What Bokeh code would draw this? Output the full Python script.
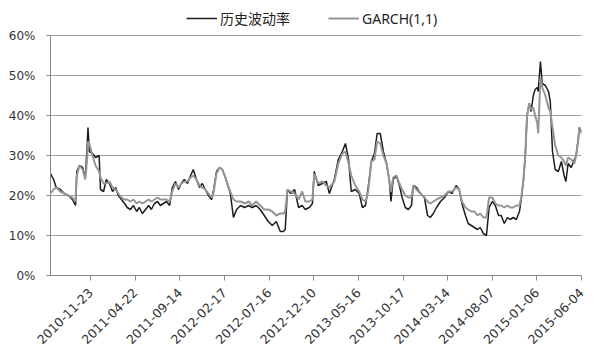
import math
from bokeh.plotting import figure
from bokeh.models import FixedTicker, Legend, LegendItem, ColumnDataSource
from bokeh.embed import file_html
from bokeh.resources import INLINE

# trading-day index of each sampled point
day = [0, 7, 13, 22, 31, 40, 49, 56, 59, 65, 72, 78, 82, 84, 87, 94, 101, 109, 112, 119,
       125, 132, 139, 146, 152, 159, 166, 172, 179, 186, 193, 199, 206, 213, 220, 226, 233, 240, 246, 253,
       260, 267, 273, 280, 287, 293, 300, 307, 314, 320, 327, 334, 340, 347, 354, 361, 365, 372, 379, 385,
       392, 399, 403, 410, 417, 426, 435, 444, 452, 461, 470, 479, 488, 497, 506, 515, 522, 526, 531, 538,
       547, 556, 564, 571, 580, 587, 591, 600, 609, 618, 625, 636, 645, 654, 661, 668, 674, 683, 692, 699,
       706, 712, 719, 726, 732, 739, 746, 753, 759, 763, 768, 775, 782, 788, 795, 802, 809, 813, 820, 829,
       838, 845, 851, 858, 865, 874, 883, 892, 900, 909, 916, 922, 930, 936, 943, 950, 957, 963, 970, 977,
       983, 990, 997, 1004, 1010, 1017, 1024, 1030, 1037, 1044, 1051, 1055, 1060, 1064, 1068, 1073, 1077, 1082, 1086, 1091,
       1093, 1098, 1102, 1109, 1116, 1120, 1125, 1131, 1138, 1145, 1151, 1155, 1160, 1167, 1174, 1178, 1183, 1185, 1190]

# 历史波动率 (%)
hv = [25.5, 24.0, 22.0, 21.5, 20.5, 20.0, 19.0, 17.5, 26.0, 27.5, 27.0, 24.5, 32.0, 37.0, 31.0, 30.5, 29.5, 30.0, 21.5, 21.0,
      24.0, 23.0, 21.0, 22.0, 20.0, 19.0, 18.0, 17.0, 16.5, 17.5, 16.0, 17.0, 15.5, 16.5, 17.5, 16.5, 18.0, 18.5, 17.5, 18.0,
      18.5, 17.5, 22.0, 23.5, 21.5, 23.0, 24.0, 23.0, 25.0, 26.5, 24.0, 22.0, 23.0, 21.5, 20.0, 19.0, 21.0, 26.0, 27.0, 26.5,
      24.5, 22.0, 20.5, 14.5, 16.5, 17.5, 17.0, 17.5, 17.0, 17.5, 16.5, 15.0, 13.5, 12.5, 13.5, 11.0, 11.0, 11.5, 21.5, 20.5,
      21.5, 17.0, 17.5, 16.5, 17.0, 18.0, 26.0, 22.5, 23.0, 23.5, 20.5, 24.0, 29.0, 31.0, 33.0, 29.0, 21.0, 21.5, 20.5, 17.0,
      17.5, 22.0, 28.5, 30.5, 35.5, 35.5, 31.0, 28.0, 24.0, 18.5, 24.0, 25.0, 22.5, 19.5, 17.0, 16.5, 17.5, 22.5, 22.0, 20.5,
      19.5, 15.0, 14.5, 15.5, 17.0, 18.5, 19.5, 21.0, 20.5, 22.5, 21.5, 18.0, 15.0, 13.0, 12.5, 12.0, 11.5, 12.0, 10.5, 10.0,
      17.0, 18.5, 17.5, 15.0, 15.0, 13.0, 14.5, 14.0, 14.5, 14.0, 16.0, 19.0, 24.0, 30.0, 40.0, 43.0, 41.0, 45.0, 46.5, 47.0,
      46.0, 53.5, 48.0, 47.5, 46.0, 43.5, 31.0, 26.5, 26.0, 28.5, 25.0, 23.5, 28.0, 27.0, 29.0, 30.0, 34.5, 37.0, 36.0]

# GARCH(1,1) (%)
garch = [20.5, 21.5, 22.0, 21.0, 20.5, 20.0, 19.5, 18.5, 25.0, 27.5, 26.5, 24.0, 29.0, 33.5, 33.0, 30.0, 27.5, 26.0, 24.5, 23.0,
         23.0, 23.5, 22.0, 21.5, 20.5, 19.5, 19.0, 19.0, 18.5, 19.0, 18.0, 18.5, 18.0, 18.5, 19.0, 18.5, 19.0, 19.5, 19.0, 19.0,
         19.0, 18.5, 21.0, 23.0, 22.0, 23.0, 23.5, 23.5, 24.5, 25.0, 24.0, 22.5, 22.0, 21.5, 20.5, 19.5, 20.5, 25.5, 27.0, 26.5,
         24.5, 22.0, 21.0, 19.0, 18.5, 18.5, 18.0, 18.5, 17.5, 18.5, 17.5, 16.5, 16.5, 16.0, 15.0, 15.5, 15.5, 16.0, 21.5, 21.0,
         20.5, 19.0, 21.0, 18.5, 18.5, 19.0, 25.5, 23.0, 23.5, 22.5, 22.0, 23.5, 28.0, 30.5, 31.0, 28.0, 25.0, 22.5, 21.0, 19.0,
         18.5, 21.0, 28.5, 29.0, 33.5, 33.0, 30.0, 28.0, 24.0, 21.0, 24.5, 25.0, 23.0, 21.5, 20.0, 19.5, 19.5, 22.5, 21.5, 20.5,
         19.5, 18.5, 18.0, 18.5, 19.0, 19.5, 20.0, 21.0, 21.0, 22.0, 21.5, 18.5, 17.0, 16.5, 16.0, 16.0, 15.0, 15.5, 14.5, 14.5,
         19.5, 19.5, 18.0, 17.5, 17.5, 17.0, 17.5, 17.0, 17.0, 17.5, 17.5, 19.5, 24.0, 30.0, 40.0, 43.0, 41.5, 42.0, 40.0, 38.0,
         35.5, 49.5, 47.0, 45.0, 42.0, 41.0, 37.0, 32.5, 30.0, 29.5, 28.5, 27.5, 29.5, 29.0, 28.0, 30.0, 34.0, 37.0, 35.5]

tick_days = [90, 190, 290, 390, 490, 590, 690, 790, 890, 990, 1090, 1190]
tick_labels = ["2010-11-23", "2011-04-22", "2011-09-14", "2012-02-17", "2012-07-16", "2012-12-10",
               "2013-05-16", "2013-10-17", "2014-03-14", "2014-08-07", "2015-01-06", "2015-06-04"]
y_ticks = [0, 10, 20, 30, 40, 50, 60]
y_labels = ["0%", "10%", "20%", "30%", "40%", "50%", "60%"]

src = ColumnDataSource(dict(day=day, hv=hv, garch=garch))

# frame spans 267 px tall (4 px per percentage point); axis line drawn only 0..60
p = figure(width=592, height=351, output_backend="svg", toolbar_location=None,
           x_range=(0, 1190), y_range=(0, 66.75),
           min_border_left=50, min_border_right=11, min_border_top=8, min_border_bottom=76)
p.background_fill_color = "white"
p.border_fill_color = "white"
p.outline_line_color = None

r_hv = p.line("day", "hv", source=src, line_color="#1c1c1c", line_width=1.5)
r_ga = p.line("day", "garch", source=src, line_color="#959595", line_width=2)

legend = Legend(items=[LegendItem(label="历史波动率", renderers=[r_hv]),
                       LegendItem(label="GARCH(1,1)", renderers=[r_ga])],
                orientation="horizontal", location=(136, 247))
legend.label_text_font = "Noto Sans, Noto Sans CJK SC"
legend.label_text_font_size = "14px"
legend.label_text_color = "#222222"
legend.glyph_width = 31
legend.glyph_height = 18
legend.label_height = 18
legend.label_standoff = 3
legend.spacing = 38
legend.padding = 0
legend.margin = 0
legend.border_line_color = None
legend.background_fill_alpha = 0
p.add_layout(legend)

p.xgrid.grid_line_color = None
p.ygrid.ticker = FixedTicker(ticks=y_ticks)
p.ygrid.grid_line_color = "#a0a0a0"
p.ygrid.grid_line_width = 1

p.yaxis.ticker = FixedTicker(ticks=y_ticks)
p.yaxis.bounds = (0, 60)
p.yaxis.major_label_overrides = {t: l for t, l in zip(y_ticks, y_labels)}
p.yaxis.axis_line_color = "#8a8a8a"
p.yaxis.major_tick_line_color = "#8a8a8a"
p.yaxis.major_tick_out = 4
p.yaxis.major_tick_in = 0
p.yaxis.minor_tick_line_color = None
p.yaxis.major_label_standoff = 11
p.yaxis.major_label_text_font = "DejaVu Sans"
p.yaxis.major_label_text_font_size = "12px"
p.yaxis.major_label_text_color = "#333333"

p.xaxis.ticker = FixedTicker(ticks=tick_days)
p.xaxis.major_label_overrides = {t: l for t, l in zip(tick_days, tick_labels)}
p.xaxis.axis_line_color = "#8a8a8a"
p.xaxis.major_tick_line_color = "#8a8a8a"
p.xaxis.major_tick_out = 5
p.xaxis.major_tick_in = 0
p.xaxis.minor_tick_line_color = None
p.xaxis.major_label_orientation = math.pi / 4
p.xaxis.major_label_standoff = 10
p.xaxis.major_label_text_font = "DejaVu Sans"
p.xaxis.major_label_text_font_size = "12.5px"
p.xaxis.major_label_text_color = "#333333"

open("out.html", "w").write(file_html(p, INLINE))
